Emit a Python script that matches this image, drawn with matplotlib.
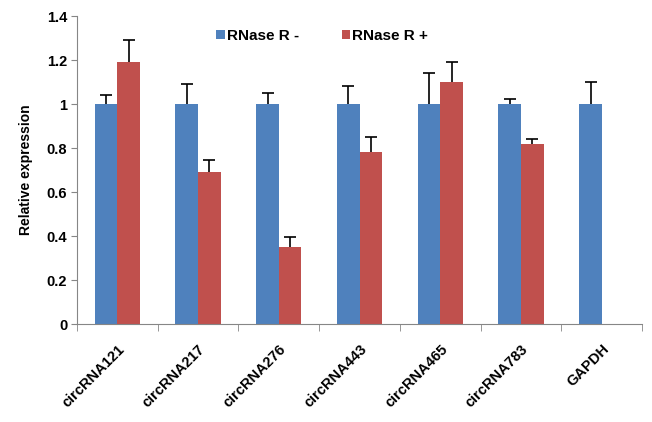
import numpy as np
import matplotlib.pyplot as plt

plt.rcParams['font.family'] = ['Liberation Sans', 'DejaVu Sans']

genes = ['circRNA121', 'circRNA217', 'circRNA276', 'circRNA443',
         'circRNA465', 'circRNA783', 'GAPDH']
minus_vals = [1.0, 1.0, 1.0, 1.0, 1.0, 1.0, 1.0]
minus_err = [0.04, 0.09, 0.05, 0.08, 0.14, 0.025, 0.10]
plus_vals = [1.19, 0.69, 0.35, 0.78, 1.10, 0.82]
plus_err = [0.10, 0.055, 0.045, 0.07, 0.09, 0.02]

blue = '#4F81BD'
red = '#C0504D'
axis_gray = '#868686'

fig = plt.figure(figsize=(6.52, 4.22), dpi=100)
ax = fig.add_axes([0.118, 0.232, 0.867, 0.730])

x = np.arange(len(genes))
w = 0.28
ekw = dict(ecolor='black', elinewidth=1.2, capthick=1.2)
b1 = ax.bar(x - w / 2, minus_vals, w, color=blue, label='RNase R -',
            yerr=[np.zeros(len(minus_err)), minus_err], capsize=4, error_kw=ekw)
xp = x[:len(plus_vals)]
b2 = ax.bar(xp + w / 2, plus_vals, w, color=red, label='RNase R +',
            yerr=[np.zeros(len(plus_err)), plus_err], capsize=4, error_kw=ekw)
# hide the lower caps (only upper error shown)
for b in (b1, b2):
    caps = b.errorbar.lines[1]
    caps[0].set_visible(False)

ax.set_xlim(-0.5, 6.41)
ax.set_ylim(0, 1.4)
ax.set_yticks(np.arange(0, 1.41, 0.2))
ax.set_yticklabels(['0', '0.2', '0.4', '0.6', '0.8', '1', '1.2', '1.4'],
                   fontsize=10.5, fontweight='bold')
ax.set_xticks(x)
ax.set_xticklabels(genes, rotation=45, ha='right', rotation_mode='anchor',
                   fontsize=10.5, fontweight='bold')
ax.set_xticks(np.arange(-0.5, 6.6, 1), minor=True)
ax.tick_params(axis='x', which='major', length=0, pad=13)
ax.tick_params(axis='x', which='minor', length=5, color=axis_gray)
ax.tick_params(axis='y', length=4, color=axis_gray, pad=3)

for s in ['top', 'right']:
    ax.spines[s].set_visible(False)
for s in ['left', 'bottom']:
    ax.spines[s].set_color(axis_gray)

ax.set_ylabel('Relative expression', fontsize=10, fontweight='bold', labelpad=10)

leg = ax.legend(loc='center', bbox_to_anchor=(0.434, 0.936), ncol=2, frameon=False,
                handlelength=0.55, handleheight=0.55, handletextpad=0.15,
                columnspacing=2.8, prop=dict(size=11, weight='bold'))

fig.savefig('out.png', dpi=100)
